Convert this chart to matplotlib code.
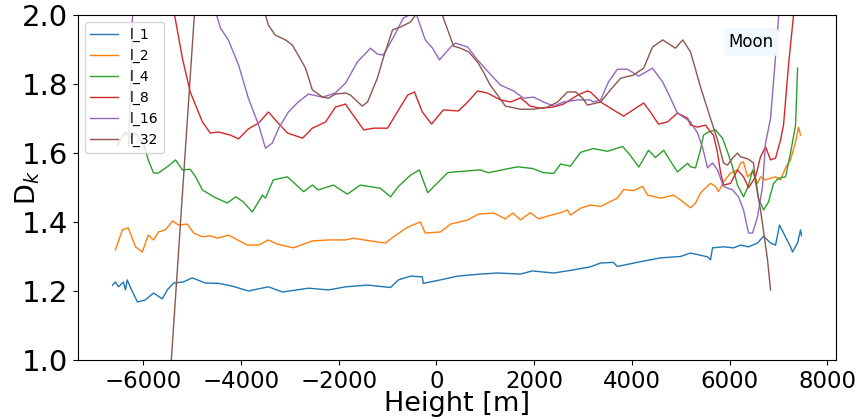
import matplotlib
matplotlib.use("Agg")
import matplotlib.pyplot as plt

labels = ["l_1", "l_2", "l_4", "l_8", "l_16", "l_32"]

x1 = [-6630, -6571, -6510, -6407, -6366, -6330, -6240, -6120, -5960, -5790, -5610, -5510, -5380, -5180, -5000,
      -4730, -4460, -4180, -3850, -3440, -3150, -2620, -2210, -1860, -1410, -940, -780, -530, -290, -270, 80,
      430, 900, 1250, 1720, 1960, 2400, 2800, 3150, 3360, 3620, 3700, 4180, 4590, 4995, 5199, 5547, 5609,
      5650, 5875, 6080, 6223, 6387, 6571, 6694, 6837, 6939, 7021, 7103, 7246, 7287, 7390, 7451, 7472]
y1 = [1.217, 1.226, 1.212, 1.226, 1.203, 1.232, 1.203, 1.168, 1.174, 1.194, 1.177, 1.203, 1.223, 1.226, 1.238,
      1.223, 1.222, 1.214, 1.200, 1.212, 1.197, 1.208, 1.203, 1.212, 1.217, 1.210, 1.232, 1.243, 1.241, 1.222, 1.232,
      1.243, 1.249, 1.252, 1.249, 1.258, 1.252, 1.261, 1.270, 1.281, 1.283, 1.271, 1.285, 1.296, 1.300, 1.310, 1.299, 1.290,
      1.325, 1.328, 1.325, 1.333, 1.328, 1.339, 1.359, 1.339, 1.333, 1.391, 1.368, 1.328, 1.313, 1.339, 1.377, 1.360]

x2 = [-6570, -6430, -6310, -6160, -6020, -5900, -5790, -5690, -5550, -5400, -5280, -5100, -4970, -4790,
      -4630, -4480, -4260, -4070, -3870, -3640, -3440, -3260, -2930, -2540, -2210, -1860, -1700, -1350, -1040,
      -880, -590, -330, -230, 80, 290, 640, 860, 1170, 1410, 1560, 1720, 1920, 2090, 2270, 2540, 2680, 2740,
      2950, 3150, 3360, 3700, 3830, 4030, 4220, 4320, 4590, 4850, 4995, 5199, 5302, 5404, 5506, 5609, 5711,
      5772, 5875, 6018, 6161, 6223, 6284, 6366, 6469, 6571, 6632, 6735, 6837, 6939, 7042, 7144, 7246, 7349,
      7410, 7451]
y2 = [1.319, 1.377, 1.383, 1.328, 1.313, 1.362, 1.348, 1.371, 1.377, 1.403, 1.391, 1.394, 1.368, 1.357,
      1.360, 1.353, 1.362, 1.348, 1.333, 1.333, 1.348, 1.336, 1.325, 1.345, 1.348, 1.348, 1.353, 1.345, 1.339,
      1.357, 1.385, 1.400, 1.368, 1.371, 1.394, 1.406, 1.423, 1.426, 1.409, 1.426, 1.406, 1.427, 1.409, 1.417, 1.427, 1.435, 1.420,
      1.440, 1.449, 1.445, 1.469, 1.494, 1.491, 1.503, 1.478, 1.469, 1.478, 1.464, 1.441, 1.455, 1.484, 1.499, 1.512, 1.503,
      1.488, 1.516, 1.542, 1.551, 1.571, 1.574, 1.531, 1.545, 1.512, 1.531, 1.522, 1.527, 1.531, 1.522, 1.557, 1.580, 1.632,
      1.675, 1.652]

x4 = [-6530, -6370, -6260, -6160, -6000, -5900, -5790, -5690, -5510, -5340, -5200, -5040, -4930, -4790,
      -4560, -4280, -4110, -3950, -3770, -3560, -3500, -3340, -3050, -2720, -2540, -2420, -2110, -1860, -1820,
      -1560, -1150, -940, -780, -530, -350, -180, 230, 350, 900, 1060, 1660, 1970, 2190, 2400, 2540, 2740,
      2950, 3210, 3500, 3810, 3970, 4140, 4340, 4480, 4650, 4930, 5140, 5199, 5302, 5404, 5465, 5568, 5711,
      5854, 5957, 6059, 6161, 6284, 6387, 6469, 6530, 6591, 6694, 6796, 6898, 7001, 7144, 7246, 7349, 7390]
y4 = [1.623, 1.661, 1.643, 1.658, 1.629, 1.580, 1.542, 1.542, 1.560, 1.580, 1.551, 1.553, 1.531, 1.493,
      1.473, 1.455, 1.473, 1.458, 1.429, 1.478, 1.469, 1.522, 1.531, 1.488, 1.507, 1.493, 1.507, 1.484, 1.481,
      1.507, 1.498, 1.473, 1.503, 1.536, 1.551, 1.485, 1.543, 1.545, 1.551, 1.543, 1.560, 1.555, 1.543, 1.541, 1.568, 1.562,
      1.602, 1.613, 1.605, 1.619, 1.593, 1.559, 1.608, 1.587, 1.608, 1.545, 1.570, 1.560, 1.557, 1.609, 1.652, 1.661, 1.667,
      1.643, 1.603, 1.560, 1.507, 1.473, 1.507, 1.551, 1.527, 1.469, 1.435, 1.458, 1.512, 1.527, 1.531, 1.600, 1.681, 1.846]

x8 = [-5700, -5360, -5200, -5040, -4790, -4630, -4460, -4220, -4050, -3850, -3640, -3440, -3260, -3050,
      -2740, -2540, -2270, -2070, -1860, -1820, -1490, -1290, -1000, -840, -590, -450, -290, -100, 140, 450,
      640, 840, 1040, 1310, 1520, 1720, 1920, 2130, 2380, 2600, 2890, 3090, 3150, 3360, 3620, 3830, 4110,
      4240, 4380, 4540, 4730, 4930, 5140, 5199, 5343, 5506, 5609, 5670, 5752, 5813, 5875, 6018, 6161, 6284,
      6387, 6530, 6632, 6735, 6837, 6939, 7042, 7103, 7205, 7308, 7400]
y8 = [2.25, 2.0, 1.875, 1.777, 1.690, 1.658, 1.661, 1.652, 1.641, 1.670, 1.687, 1.719, 1.690, 1.658,
      1.643, 1.672, 1.690, 1.733, 1.742, 1.733, 1.667, 1.672, 1.672, 1.710, 1.768, 1.777, 1.719, 1.684, 1.725, 1.722,
      1.748, 1.780, 1.774, 1.754, 1.748, 1.760, 1.736, 1.730, 1.733, 1.742, 1.768, 1.780, 1.777, 1.748, 1.725, 1.707, 1.733,
      1.745, 1.719, 1.684, 1.690, 1.716, 1.701, 1.681, 1.675, 1.681, 1.661, 1.652, 1.600, 1.545, 1.507, 1.512, 1.551, 1.531,
      1.499, 1.531, 1.589, 1.618, 1.580, 1.585, 1.638, 1.681, 1.855, 2.0, 2.15]

x16 = [-6300, -6200, -5500, -4700, -4500, -4420, -4260, -4050, -3850, -3640, -3500, -3360, -3230, -3030,
       -2830, -2620, -2330, -2070, -1860, -1620, -1350, -1210, -1090, -880, -680, -430, -230, -80, 60, 290,
       390, 640, 840, 1060, 1310, 1580, 1780, 1990, 2190, 2400, 2600, 2890, 3150, 3210, 3360, 3520, 3700,
       3910, 4140, 4420, 4630, 4790, 4930, 5140, 5199, 5343, 5450, 5547, 5650, 5752, 5875, 6059, 6182, 6284,
       6387, 6469, 6571, 6673, 6735, 6837, 6980, 7050]
y16 = [1.62, 2.1, 2.3, 2.1, 2.0, 1.962, 1.928, 1.855, 1.759, 1.681, 1.614, 1.629, 1.672, 1.719,
       1.748, 1.771, 1.762, 1.774, 1.803, 1.864, 1.904, 1.887, 1.884, 1.936, 1.991, 2.01, 1.928, 1.904, 1.870, 1.907,
       1.919, 1.907, 1.870, 1.835, 1.797, 1.780, 1.759, 1.762, 1.748, 1.736, 1.748, 1.754, 1.754, 1.748, 1.754, 1.806, 1.843,
       1.843, 1.823, 1.846, 1.806, 1.759, 1.716, 1.696, 1.690, 1.658, 1.614, 1.557, 1.571, 1.551, 1.503, 1.493, 1.473, 1.435,
       1.368, 1.368, 1.415, 1.503, 1.629, 1.700, 1.951, 2.1]

x32 = [-5450, -4880, -4300, -3800, -3500, -3440, -3300, -3090, -2950, -2830, -2680, -2540, -2330, -2210,
       -2070, -1860, -1760, -1520, -1410, -1210, -1090, -900, -740, -530, -430, -200, 120, 230, 350, 490, 660,
       840, 960, 1100, 1250, 1410, 1520, 1720, 1990, 2270, 2480, 2680, 2850, 2990, 3090, 3360, 3560, 3770,
       4030, 4240, 4420, 4630, 4890, 5040, 5200, 5404, 5609, 5752, 5875, 5957, 6059, 6161, 6223, 6326, 6387,
       6489, 6530, 6632, 6776, 6837]
y32 = [0.95, 2.16, 2.35, 2.2, 2.0, 1.971, 1.942, 1.928, 1.913, 1.884, 1.846, 1.783, 1.762, 1.759,
       1.771, 1.774, 1.768, 1.736, 1.748, 1.817, 1.875, 1.957, 1.965, 1.980, 2.0, 2.08, 2.0, 1.957, 1.910, 1.904, 1.893,
       1.864, 1.835, 1.797, 1.768, 1.736, 1.733, 1.727, 1.727, 1.733, 1.748, 1.777, 1.777, 1.759, 1.739, 1.748, 1.783, 1.817,
       1.826, 1.846, 1.907, 1.928, 1.904, 1.928, 1.893, 1.791, 1.700, 1.638, 1.571, 1.565, 1.585, 1.600, 1.589, 1.585, 1.582,
       1.571, 1.516, 1.435, 1.290, 1.203]

xs = [x1, x2, x4, x8, x16, x32]
ys = [y1, y2, y4, y8, y16, y32]

fig = plt.figure(figsize=(8.57, 4.19), dpi=100)
ax = fig.add_axes([0.091, 0.141, 0.8845, 0.823])
for x, y, lab in zip(xs, ys, labels):
    ax.plot(x, y, lw=1.0, label=lab)

ax.set_xlim(-7337, 8177)
ax.set_ylim(1.0, 2.0)
ax.set_xticks([-6000, -4000, -2000, 0, 2000, 4000, 6000, 8000])
ax.set_yticks([1.0, 1.2, 1.4, 1.6, 1.8, 2.0])
ax.tick_params(axis="x", labelsize=16.5)
ax.tick_params(axis="y", labelsize=21)
ax.set_xlabel("Height [m]", fontsize=19.5)
ax.set_ylabel(r"D$_k$", fontsize=19.5)
ax.xaxis.set_label_coords(0.5, -0.089)
ax.yaxis.set_label_coords(-0.047, 0.5)
ax.legend(loc="upper left", fontsize=10)
ax.text(0.888, 0.922, "Moon", transform=ax.transAxes, fontsize=12, ha="center", va="center",
        bbox=dict(boxstyle="round", facecolor="aliceblue", edgecolor="none"))

fig.savefig("out.png", dpi=100)
